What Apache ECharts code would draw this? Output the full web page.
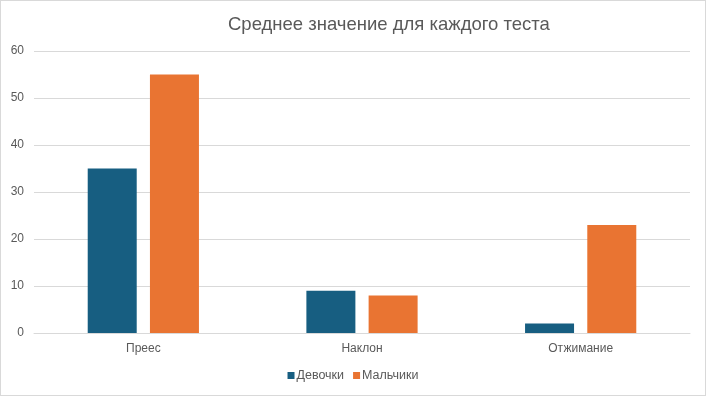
<!DOCTYPE html>
<html><head><meta charset="utf-8">
<script src="https://cdn.jsdelivr.net/npm/echarts@6/dist/echarts.min.js"></script>
<style>html,body{margin:0;padding:0;background:#fff}#c{width:706px;height:396px;box-sizing:border-box;border:1px solid #d9d9d9}</style>
</head><body><div id="c"></div>
<script>
const categories = ['Преес', 'Наклон', 'Отжимание'];
const girls = [35, 9, 2];
const boys = [55, 8, 23];
const seriesNames = ['Девочки', 'Мальчики'];
const chart = echarts.init(document.getElementById('c'));
const font = 'Liberation Sans, Arial, sans-serif';
chart.setOption({
  animation: false,
  textStyle: { fontFamily: font },
  title: { text: 'Среднее значение для каждого теста', left: 222, top: 9,
    textStyle: { fontSize: 18.5, fontWeight: 'normal', color: '#595959', fontFamily: font } },
  legend: { bottom: 8, left: 'center', itemWidth: 7, itemHeight: 7, itemGap: 9, icon: 'rect',
    textStyle: { fontSize: 12.5, color: '#595959', padding: [0,0,0,-3] }, data: seriesNames },
  grid: { left: 33, right: 15, top: 50, bottom: 62 },
  xAxis: { type: 'category', data: categories,
    axisLine: { lineStyle: { color: '#d9d9d9' } }, axisTick: { show: false },
    axisLabel: { color: '#595959', fontSize: 12, margin: 10 } },
  yAxis: { type: 'value', min: 0, max: 60, interval: 10,
    axisLabel: { color: '#595959', fontSize: 12, margin: 10 },
    splitLine: { lineStyle: { color: '#d9d9d9' } } },
  series: [
    { name: seriesNames[0], type: 'bar', data: girls, barWidth: 49, barGap: '27%', itemStyle: { color: '#175e81' } },
    { name: seriesNames[1], type: 'bar', data: boys, barWidth: 49, itemStyle: { color: '#e97432' } }
  ]
});
</script></body></html>
